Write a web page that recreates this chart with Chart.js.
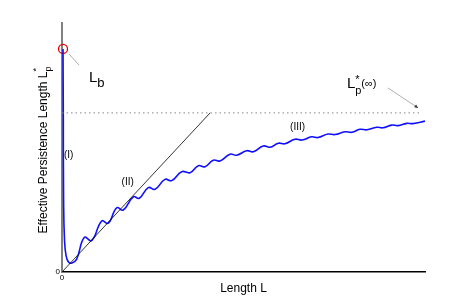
<!DOCTYPE html>
<html>
<head>
<meta charset="utf-8">
<script src="https://cdn.jsdelivr.net/npm/chart.js@4.4.0/dist/chart.umd.min.js"></script>
<style>
  body { margin: 0; background: #fff; }
  #wrap { width: 470px; height: 306px; }
</style>
</head>
<body>
<div id="wrap"><canvas id="lpChart"></canvas></div>
<script>
// blue curve (turning points of the wiggles)
var curveX = [0.28, 0.36, 0.44, 0.69, 1.10, 1.79, 2.75, 4.05, 6.14, 8.18, 10.94, 12.75, 15.07, 16.89,
    19.64, 21.29, 23.77, 25.62, 28.37, 30.22, 32.98, 35.26, 37.55, 39.39, 41.68, 43.53, 46.28, 48.13,
    50.88, 52.70, 55.45, 57.30, 59.59, 61.43, 64.19, 66.12, 68.79, 70.52, 73.28, 75.21, 77.96, 79.89,
    82.09, 84.02, 86.69, 88.43, 90.83, 92.56, 94.96, 96.69, 100];
var curveY = [89.6, 61.0, 28.9, 12.9, 6.8, 4.0, 3.6, 5.2, 13.9, 12.6, 20.5, 19.6, 25.8, 24.9,
    30.2, 29.6, 33.9, 33.2, 37.2, 36.7, 40.3, 39.9, 42.7, 42.3, 44.9, 44.6, 47.3, 46.9,
    48.7, 48.3, 50.6, 50.1, 51.7, 51.5, 53.3, 53.0, 54.3, 54.0, 55.4, 55.2, 56.3, 56.1,
    57.3, 57.1, 58.1, 57.9, 59.0, 58.8, 59.7, 59.6, 60.6];
// regime (II) straight line and the L_p*(inf) level
var diagX = [0, 40.8];
var diagY = [0, 63.9];
var limitX = [0, 98.8];
var limitY = [63.9, 63.9];
var xTicks = [0];
var yTicks = [0];

function pts(xs, ys) {
    return xs.map(function(x, i) { return { x: x, y: ys[i] }; });
}

var FONT = '"Liberation Sans", Arial, sans-serif';

function arrow(ctx, x1, y1, x2, y2, head) {
    ctx.beginPath();
    ctx.moveTo(x1, y1);
    ctx.lineTo(x2, y2);
    ctx.stroke();
    if (head) {
        var a = Math.atan2(y2 - y1, x2 - x1);
        ctx.beginPath();
        ctx.moveTo(x2, y2);
        ctx.lineTo(x2 - 4 * Math.cos(a - 0.45), y2 - 4 * Math.sin(a - 0.45));
        ctx.lineTo(x2 - 4 * Math.cos(a + 0.45), y2 - 4 * Math.sin(a + 0.45));
        ctx.closePath();
        ctx.fill();
    }
}

var notes = {
    id: 'notes',
    afterDatasetsDraw: function(chart) {
        var ctx = chart.ctx;
        var sx = chart.scales.x, sy = chart.scales.y;
        function px(v) { return sx.getPixelForValue(v); }
        function py(v) { return sy.getPixelForValue(v); }
        ctx.save();
        ctx.fillStyle = '#000';
        ctx.textBaseline = 'middle';
        ctx.textAlign = 'center';
        ctx.font = '10px ' + FONT;
        ctx.fillText('(I)', px(1.85), py(46.8));
        ctx.fillText('(II)', px(18.1), py(35.9));
        ctx.fillText('(III)', px(64.9), py(58.0));

        // L_b
        ctx.textAlign = 'left';
        ctx.textBaseline = 'alphabetic';
        var x = px(7.44), y = py(76.3);
        ctx.font = '15px ' + FONT;
        ctx.fillText('L', x, y);
        var w = ctx.measureText('L').width;
        ctx.font = '13px ' + FONT;
        ctx.fillText('b', x + w, y + 5);

        // L_p*(inf)
        x = px(78.5); y = py(73.9);
        ctx.font = '15px ' + FONT;
        ctx.fillText('L', x, y);
        w = ctx.measureText('L').width;
        ctx.font = '11px ' + FONT;
        ctx.fillText('p', x + w, y + 6);
        ctx.fillText('*', x + w, y - 5);
        ctx.fillText('(\u221e)', x + w + 6, y - 1);

        // arrows
        ctx.strokeStyle = '#999';
        ctx.fillStyle = '#333';
        ctx.lineWidth = 0.8;
        arrow(ctx, px(4.68), py(83.1), px(1.93), py(87.6), false);
        arrow(ctx, px(89.8), py(73.9), px(98.1), py(65.9), true);

        // y title with sub/superscript
        ctx.fillStyle = '#000';
        ctx.translate(47, py(15.5));
        ctx.rotate(-Math.PI / 2);
        ctx.font = '12px ' + FONT;
        var t = 'Effective Persistence Length L';
        ctx.fillText(t, 0, 0);
        w = ctx.measureText(t).width;
        ctx.font = '9px ' + FONT;
        ctx.fillText('p', w, 3.5);
        ctx.fillText('*', w, -8);
        ctx.restore();
    }
};

new Chart(document.getElementById('lpChart'), {
    type: 'scatter',
    data: {
        datasets: [{
            data: pts(diagX, diagY),
            showLine: true,
            borderColor: '#000',
            borderWidth: 0.8,
            pointRadius: 0
        }, {
            data: pts(limitX, limitY),
            showLine: true,
            borderColor: '#888',
            borderWidth: 1,
            borderDash: [1.5, 3],
            pointRadius: 0
        }, {
            data: pts(curveX, curveY),
            showLine: true,
            borderColor: '#1010ff',
            borderWidth: 1.6,
            tension: 0.45,
            pointRadius: 0
        }, {
            data: pts([curveX[0]], [curveY[0]]),
            showLine: false,
            pointRadius: 4.5,
            borderColor: '#e00000',
            borderWidth: 1.3,
            backgroundColor: 'rgba(0,0,0,0)',
            clip: false
        }]
    },
    options: {
        responsive: true,
        maintainAspectRatio: false,
        animation: false,
        events: [],
        layout: { padding: { top: 23, right: 45, left: 0, bottom: 0 } },
        plugins: { legend: { display: false }, tooltip: { enabled: false } },
        scales: {
            x: {
                type: 'linear',
                min: 0,
                max: 100,
                afterBuildTicks: function(s) { s.ticks = xTicks.map(function(v) { return { value: v }; }); },
                afterFit: function(s) { s.height = 34; },
                grid: { display: false, drawTicks: false },
                border: { display: true, color: '#000', width: 1.5 },
                ticks: { font: { size: 8, family: FONT }, color: '#000', padding: 1, maxRotation: 0 },
                title: { display: true, text: 'Length L', font: { size: 12, family: FONT }, color: '#000', padding: { bottom: 10 } }
            },
            y: {
                type: 'linear',
                min: 0,
                max: 100,
                afterBuildTicks: function(s) { s.ticks = yTicks.map(function(v) { return { value: v }; }); },
                afterFit: function(s) { s.width = 62; },
                grid: { display: false, drawTicks: false },
                border: { display: true, color: '#808080', width: 2 },
                ticks: { font: { size: 8, family: FONT }, color: '#000', padding: 2 }
            }
        }
    },
    plugins: [notes]
});
</script>
</body>
</html>
